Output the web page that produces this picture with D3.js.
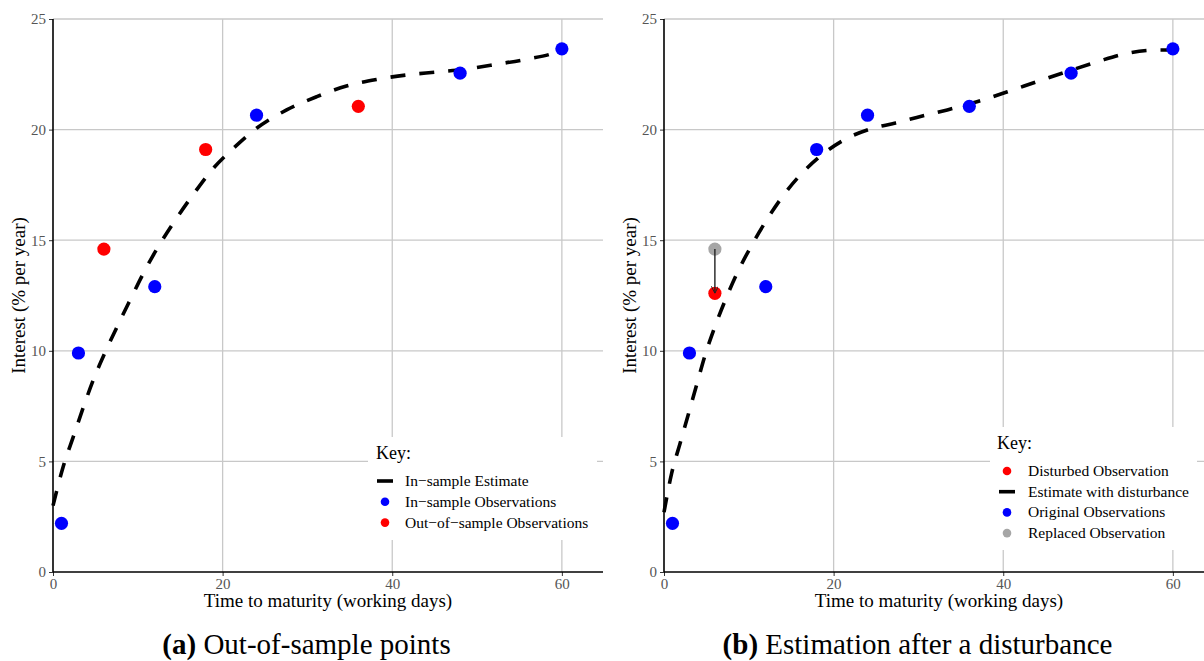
<!DOCTYPE html>
<html>
<head>
<meta charset="utf-8">
<script src="https://cdn.jsdelivr.net/npm/d3@7"></script>
<style>
  html, body { margin: 0; padding: 0; background: #fff; }
  svg { display: block; font-family: "Liberation Serif", "Times New Roman", serif; }
</style>
</head>
<body>
<svg id="chart" width="1204" height="661"></svg>
<script>
// Tick values
const xTicks = [0, 20, 40, 60];
const yTicks = [0, 5, 10, 15, 20, 25];

// Observed yields (% per year) by maturity (working days)
const maturities = [1, 3, 6, 12, 18, 24, 36, 48, 60];
const observedRates = [2.2, 9.9, 14.6, 12.9, 19.1, 20.65, 21.05, 22.55, 23.65];
const outOfSampleMaturities = [6, 18, 36];

// Disturbance applied in panel (b)
const disturbedMaturity = [6];
const disturbedRate = [12.6];

// Fitted curve from in-sample points
const inSampleCurveX = [0, 1.2, 2.4, 3.6, 4.75, 6.1, 7.7, 9.1, 10.65, 12.4, 14.4, 16.5, 18.9, 21.25, 24, 27.55, 31.1, 34.6, 38.2, 41.7, 45.2, 48.8, 52.3, 55.8, 59.4, 60];
const inSampleCurveY = [3.0, 4.76, 6.12, 7.47, 8.68, 9.89, 11.2, 12.3, 13.5, 14.7, 15.9, 17.05, 18.25, 19.15, 20.06, 20.89, 21.49, 21.97, 22.27, 22.47, 22.6, 22.74, 22.95, 23.18, 23.52, 23.63];

// Fitted curve after the disturbance
const disturbedCurveX = [0, 0.9, 1.9, 2.9, 3.9, 4.85, 6.0, 7.4, 8.8, 10.35, 12.1, 14.1, 16.25, 18.6, 21.2, 24.1, 27.3, 29.8, 33.4, 36.9, 40.5, 44.0, 47.5, 51.1, 54.6, 58.2, 60];
const disturbedCurveY = [2.7, 4.46, 5.82, 7.17, 8.53, 9.81, 11.09, 12.45, 13.65, 14.78, 15.91, 17.04, 18.02, 18.85, 19.53, 20.0, 20.3, 20.55, 20.89, 21.26, 21.71, 22.17, 22.62, 23.07, 23.45, 23.6, 23.6];

// Legend labels
const legendLabelsA = ["In\u2212sample Estimate", "In\u2212sample Observations", "Out\u2212of\u2212sample Observations"];
const legendKindsA = ["line", "blue", "red"];
const legendLabelsB = ["Disturbed Observation", "Estimate with disturbance", "Original Observations", "Replaced Observation"];
const legendKindsB = ["red", "line", "blue", "grey"];

const xTitle = "Time to maturity (working days)";
const yTitle = "Interest (% per year)";

const colors = { blue: "#0000ff", red: "#ff0000", grey: "#a6a6a6", line: "#000" };

const svg = d3.select("#chart");

svg.append("defs").append("marker")
  .attr("id", "arrowhead")
  .attr("viewBox", "0 0 10 10")
  .attr("refX", 10).attr("refY", 5)
  .attr("markerWidth", 7).attr("markerHeight", 7)
  .attr("markerUnits", "userSpaceOnUse")
  .attr("orient", "auto")
  .append("path")
  .attr("d", "M0,0 L10,5 L0,10")
  .attr("fill", "none")
  .attr("stroke", "#222")
  .attr("stroke-width", 1.4);

function drawPanel(opts) {
  const left = opts.left, top = 19, width = 550, height = 553;
  const g = svg.append("g").attr("transform", `translate(${left},${top})`);
  const x = d3.scaleLinear().domain([0, 64.85]).range([0, width]);
  const y = d3.scaleLinear().domain([0, 25]).range([height, 0]);

  // grid
  g.append("g").selectAll("line.h").data(yTicks.filter(d => d > 0)).join("line")
    .attr("x1", 0).attr("x2", width)
    .attr("y1", d => y(d)).attr("y2", d => y(d))
    .attr("stroke", "#c8c8c8").attr("stroke-width", 1.3);
  g.append("g").selectAll("line.v").data(xTicks.filter(d => d > 0)).join("line")
    .attr("y1", 0).attr("y2", height)
    .attr("x1", d => x(d)).attr("x2", d => x(d))
    .attr("stroke", "#c8c8c8").attr("stroke-width", 1.3);

  // axes
  const yAxis = g.append("g").call(d3.axisLeft(y).tickValues(yTicks).tickSize(4).tickPadding(3));
  const xAxis = g.append("g").attr("transform", `translate(0,${height})`)
    .call(d3.axisBottom(x).tickValues(xTicks).tickSize(4).tickPadding(2));
  [yAxis, xAxis].forEach(a => {
    a.select(".domain").remove();
    a.selectAll(".tick line").attr("stroke", "#333").attr("stroke-width", 1);
    a.selectAll(".tick text").attr("fill", "#555")
      .style("font-family", "Liberation Serif").style("font-size", "15px");
  });
  g.append("line").attr("x1", 0).attr("x2", 0).attr("y1", 0).attr("y2", height)
    .attr("stroke", "#000").attr("stroke-width", 1.6);
  g.append("line").attr("x1", 0).attr("x2", width).attr("y1", height).attr("y2", height)
    .attr("stroke", "#000").attr("stroke-width", 1.6);

  // axis titles
  g.append("text").attr("x", 275).attr("y", 588)
    .attr("text-anchor", "middle").style("font-size", "19px").attr("fill", "#000")
    .text(xTitle);
  g.append("text").attr("transform", `translate(-28,${height / 2}) rotate(-90)`)
    .attr("text-anchor", "middle").style("font-size", "19px").attr("fill", "#000")
    .text(yTitle);

  // fitted curve
  const line = d3.line().x(d => x(d[0])).y(d => y(d[1])).curve(d3.curveMonotoneX);
  g.append("path").datum(d3.zip(opts.curveX, opts.curveY))
    .attr("d", line).attr("fill", "none")
    .attr("stroke", "#000").attr("stroke-width", 3.6)
    .attr("stroke-dasharray", "15,14");

  // points
  g.append("g").selectAll("circle").data(opts.points).join("circle")
    .attr("cx", d => x(d.x)).attr("cy", d => y(d.y)).attr("r", 6.6)
    .attr("fill", d => colors[d.kind]);

  if (opts.arrow) {
    const a = opts.arrow;
    g.append("line")
      .attr("x1", x(a.x)).attr("y1", y(a.from))
      .attr("x2", x(a.x)).attr("y2", y(a.to))
      .attr("stroke", "#222").attr("stroke-width", 1.4)
      .attr("marker-end", "url(#arrowhead)");
  }

  // legend
  const L = opts.legend;
  const lg = svg.append("g").attr("transform", `translate(${L.x},${L.y})`);
  lg.append("rect").attr("width", L.w).attr("height", L.h).attr("fill", "#fff");
  lg.append("text").attr("x", L.keyX).attr("y", L.keyY).style("font-size", "18px").text("Key:");
  L.labels.forEach((lab, i) => {
    const cy = L.row0 + i * L.rowGap;
    const kind = L.kinds[i];
    if (kind === "line") {
      lg.append("line").attr("x1", L.symX - 8).attr("x2", L.symX + 8)
        .attr("y1", cy).attr("y2", cy).attr("stroke", "#000").attr("stroke-width", 3.6);
    } else {
      lg.append("circle").attr("cx", L.symX).attr("cy", cy).attr("r", 4.3).attr("fill", colors[kind]);
    }
    lg.append("text").attr("x", L.textX).attr("y", cy + 5).style("font-size", "15.5px").text(lab);
  });
}

// Panel (a)
const pointsA = maturities.map((m, i) => ({
  x: m, y: observedRates[i], kind: outOfSampleMaturities.includes(m) ? "red" : "blue"
}));
drawPanel({
  left: 53,
  curveX: inSampleCurveX, curveY: inSampleCurveY,
  points: pointsA,
  legend: { x: 368, y: 437, w: 229, h: 103, keyX: 8, keyY: 22, row0: 44, rowGap: 20.8,
            symX: 17, textX: 37, labels: legendLabelsA, kinds: legendKindsA }
});

// Panel (b)
const pointsB = maturities.filter(m => !disturbedMaturity.includes(m)).map(m => ({
  x: m, y: observedRates[maturities.indexOf(m)], kind: "blue"
}));
disturbedMaturity.forEach((m, i) => {
  pointsB.push({ x: m, y: observedRates[maturities.indexOf(m)], kind: "grey" });
  pointsB.push({ x: m, y: disturbedRate[i], kind: "red" });
});
drawPanel({
  left: 664,
  curveX: disturbedCurveX, curveY: disturbedCurveY,
  points: pointsB,
  arrow: { x: disturbedMaturity[0], from: observedRates[maturities.indexOf(disturbedMaturity[0])], to: disturbedRate[0] },
  legend: { x: 990, y: 427, w: 207, h: 123, keyX: 7, keyY: 22, row0: 44, rowGap: 20.7,
            symX: 17, textX: 38, labels: legendLabelsB, kinds: legendKindsB }
});

// Sub-captions
const captions = [
  { cx: 306.5, tag: "(a)", text: " Out-of-sample points" },
  { cx: 917.5, tag: "(b)", text: " Estimation after a disturbance" }
];
captions.forEach(c => {
  const t = svg.append("text").attr("x", c.cx).attr("y", 654)
    .attr("text-anchor", "middle").style("font-size", "29px").attr("fill", "#000");
  t.append("tspan").style("font-weight", "bold").text(c.tag);
  t.append("tspan").text(c.text);
});
</script>
</body>
</html>
